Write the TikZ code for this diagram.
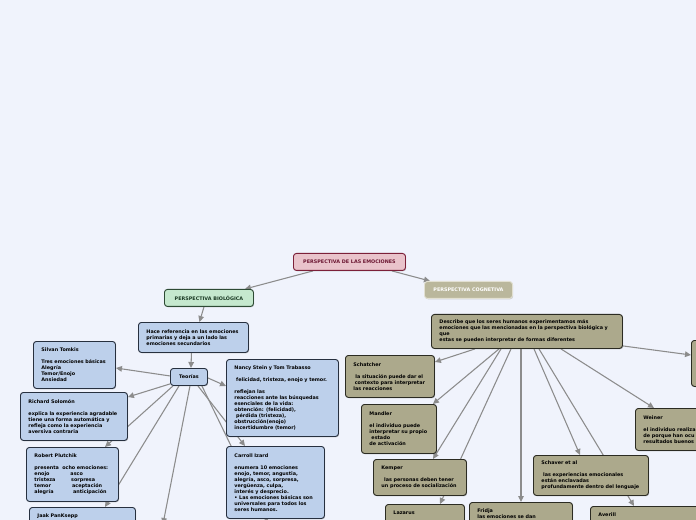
\documentclass[tikz,border=0pt]{standalone}
\usepackage{fontspec}
\setmainfont{DejaVu Sans}
\usetikzlibrary{arrows.meta,calc,shadows}
\definecolor{bgc}{HTML}{F0F3FC}
\definecolor{bluefill}{HTML}{BDD0EB}
\definecolor{blueborder}{HTML}{27303F}
\definecolor{khakifill}{HTML}{ACA98C}
\definecolor{khakiborder}{HTML}{2B2B22}
\definecolor{cogtfill}{HTML}{BAB79C}
\definecolor{cogtborder}{HTML}{E2E0D2}
\definecolor{biofill}{HTML}{C5E8CE}
\definecolor{bioborder}{HTML}{2D4A34}
\definecolor{biotext}{HTML}{1B3A24}
\definecolor{rootfill}{HTML}{E9C3CB}
\definecolor{rootborder}{HTML}{7C2039}
\definecolor{roottext}{HTML}{6B1631}
\definecolor{conncol}{HTML}{8C8C8C}
\pgfdeclarelayer{bg}
\pgfdeclarelayer{edges}
\pgfsetlayers{bg,edges,main}
\begin{document}
\begin{tikzpicture}[x=0.75pt,y=-0.75pt,
  every node/.style={font=\bfseries\fontsize{3.65}{4.5}\selectfont},
  mmbox/.style={draw, rounded corners=2.2pt, line width=0.7pt, align=left,
    inner xsep=6pt, inner ysep=2pt, anchor=north west,
    drop shadow={shadow xshift=0.5pt, shadow yshift=-0.6pt, opacity=0.35}},
  bbox/.style={mmbox, fill=bluefill, draw=blueborder},
  kbox/.style={mmbox, fill=khakifill, draw=khakiborder},
  ttl/.style={mmbox, align=center, minimum height=12.75pt, inner xsep=2pt},
  cutbox/.style={inner ysep=5pt},
  conn/.style={draw=conncol, line width=0.8pt, -{Triangle[length=4.5pt,width=4.2pt]}},
]
\useasboundingbox (0,0) rectangle (696,520);
\begin{pgfonlayer}{bg}
\fill[bgc] (0,0) rectangle (696,520);
\end{pgfonlayer}

% titles
\node[ttl, fill=rootfill, draw=rootborder, text=roottext, minimum width=84pt] (root) at (293,253) {PERSPECTIVA DE LAS EMOCIONES};
\node[ttl, fill=biofill, draw=bioborder, text=biotext, minimum width=66.75pt] (bio) at (164,289) {PERSPECTIVA BIOLÓGICA};
\node[ttl, fill=cogtfill, draw=cogtborder, text=white, minimum width=66pt] (cogt) at (424,281) {PERSPECTIVA COGNETIVA};

% biological branch
\node[bbox, text width=70.5pt, minimum height=22.5pt] (hace) at (138,322) {\mbox{Hace referencia en las emociones}\\primarias y deja a un lado las\\emociones secundarios};
\node[bbox, align=center, minimum width=27.75pt, minimum height=12.75pt, inner xsep=2pt] (teo) at (170,368) {Teorías};
\node[bbox, text width=72pt, minimum height=57.75pt] (nancy) at (226,359) {Nancy Stein y Tom Trabasso\\[4.5pt]\mbox{\hspace*{1.3pt}felicidad, tristeza, enojo y temor.}\\[4.5pt]reflejan las\\\mbox{reacciones ante las búsquedas}\\esenciales de la vida:\\obtención: (felicidad),\\\hspace*{1.3pt}pérdida (tristeza),\\obstrucción(enojo)\\incertidumbre (temor)};
\node[bbox, text width=49.5pt, minimum height=35.25pt] (silvan) at (33,341) {Silvan Tomkis\\[4.5pt]\mbox{Tres emociones básicas}\\Alegría\\Temor/Enojo\\Ansiedad};
\node[bbox, text width=68.25pt, minimum height=36pt] (richard) at (20,392) {Richard Solomón\\[4.5pt]\mbox{explica la experiencia agradable}\\\mbox{tiene una forma automática y}\\refleja como la experiencia\\aversiva contraria};
\node[bbox, text width=57pt, minimum height=40.5pt] (plut) at (26,447) {Robert Plutchik\\[4.5pt]\mbox{presenta\hspace*{1.3pt} ocho emociones:}\\\makebox[27pt][l]{enojo}asco\\\makebox[27.5pt][l]{tristeza}sorpresa\\\makebox[28.3pt][l]{temor}aceptación\\\mbox{\makebox[29pt][l]{alegría}anticipación}};
\node[bbox, cutbox, text width=67.5pt] (jaak) at (29,507) {Jaak PanKsepp\\[24pt]\mbox{}};
\node[bbox, text width=61.5pt, minimum height=54pt] (carroll) at (226,446) {Carroll Izard\\[4.5pt]enumera 10 emociones\\enojo, temor, angustia,\\alegría, asco, sorpresa,\\vergüenza, culpa,\\interés y desprecio.\\\mbox{• Las emociones básicas son}\\universales para todos los\\seres humanos.};

% cognitive branch
\node[kbox, text width=131.25pt, minimum height=25.5pt] (cog) at (431,314) {\mbox{Describe que los seres humanos experimentamos más}\\\mbox{emociones que las mencionadas en la perspectiva biológica y}\\que\\\mbox{estas se pueden interpretar de formas diferentes}};
\node[kbox, text width=54.75pt, minimum height=31.5pt] (schat) at (345,355) {Schatcher\\[4.5pt]\mbox{\hspace*{1.5pt}la situación puede dar el}\\\mbox{\hspace*{1pt}contexto para interpretar}\\las reacciones};
\node[kbox, text width=44.25pt, minimum height=36.75pt] (mandler) at (361,404) {Mandler\\[4.5pt]el individuo puede\\\mbox{interpretar su propio}\\\hspace*{1.5pt}estado\\de activación};
\node[kbox, text width=57.75pt, minimum height=27pt] (kemper) at (373,459) {Kemper\\[4.5pt]\mbox{\hspace*{2pt}las personas deben tener}\\\mbox{un proceso de socialización}};
\node[kbox, cutbox, text width=47.25pt] (lazarus) at (385,504) {Lazarus\\[24pt]\mbox{}};
\node[kbox, cutbox, text width=65.25pt] (fridja) at (469,502) {Fridja\\las emociones se dan\\[24pt]\mbox{}};
\node[kbox, text width=74.25pt, minimum height=30pt] (schaver) at (533,455) {Schaver et al\\[4.5pt]\mbox{\hspace*{1.3pt}las experiencias emocionales}\\están enclavadas\\\mbox{profundamente dentro del lenguaje}};
\node[kbox, cutbox, text width=75pt] (averill) at (590,506) {Averill\\[24pt]\mbox{}};
\node[kbox, text width=75pt, minimum height=31.5pt] (weiner) at (635,408) {Weiner\\[4.5pt]el individuo realiza\\de porque han ocu\\resultados buenos};
\node[kbox, minimum width=30pt, minimum height=34.5pt] (rbox) at (691,340) {};

\coordinate (offa) at (163,524);
\coordinate (offb) at (268,522);

\begin{pgfonlayer}{edges}
\draw[conn] ($(root.south west)+(20,0)$) -- ($(bio.north east)+(-9,0)$);
\draw[conn] ($(root.south east)+(-14,0)$) -- ($(cogt.north west)+(6,0)$);
\draw[conn] ($(bio.south)+(-5,0)$) -- ($(hace.north)+(6,0)$);
\draw[conn] ($(hace.south)+(-2,0)$) -- ($(teo.north)+(2,0)$);
\draw[conn] ($(teo.east)+(0,1)$) -- ($(nancy.north west)+(0,27)$);
\draw[conn] ($(teo.west)+(0,-1)$) -- ($(silvan.north east)+(0,27)$);
\draw[conn] ($(teo.south west)+(0,-2)$) -- ($(richard.north east)+(0,5)$);
\draw[conn] ($(teo.south west)+(3,0)$) -- ($(plut.north west)+(79,0)$);
\draw[conn] ($(teo.south west)+(9,0)$) -- ($(jaak.north west)+(76,0)$);
\draw[conn] ($(teo.south)+(1,0)$) -- (offa);
\draw[conn] ($(teo.south east)+(-10,0)$) -- ($(carroll.north west)+(19,0)$);
\draw[conn] ($(teo.south east)+(-6,0)$) -- (offb);
\draw[conn] ($(cog.south west)+(44,0)$) -- ($(schat.north east)+(0,7)$);
\draw[conn] ($(cog.south west)+(68,0)$) -- ($(mandler.north east)+(-4,0)$);
\draw[conn] ($(cog.south west)+(70,0)$) -- ($(kemper.north west)+(60,0)$);
\draw[conn] ($(cog.south west)+(80,0)$) -- ($(lazarus.north west)+(55,0)$);
\draw[conn] ($(cog.south west)+(90,0)$) -- ($(fridja.north west)+(52,0)$);
\draw[conn] ($(cog.south west)+(103,0)$) -- ($(schaver.north west)+(47,0)$);
\draw[conn] ($(cog.south west)+(108,0)$) -- ($(averill.north west)+(44,0)$);
\draw[conn] ($(cog.south west)+(130,0)$) -- ($(weiner.north west)+(19,0)$);
\draw[conn] ($(cog.south east)+(0,-3)$) -- ($(rbox.north west)+(0,15)$);
\end{pgfonlayer}
\end{tikzpicture}
\end{document}
